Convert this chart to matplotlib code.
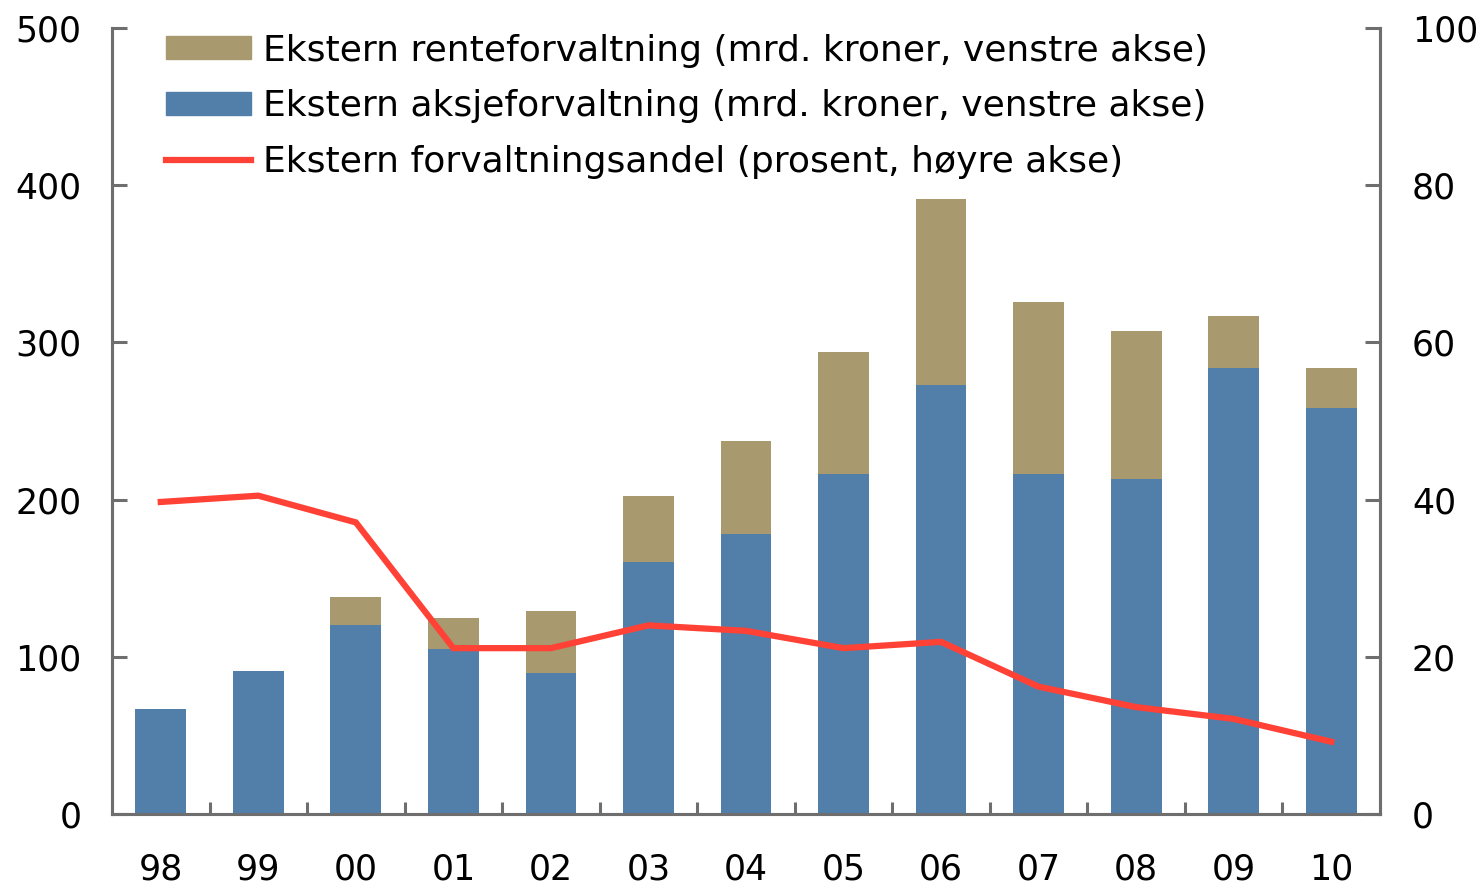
import numpy as np
import matplotlib.pyplot as plt
from matplotlib.lines import Line2D
from matplotlib.patches import Patch

years = ["98", "99", "00", "01", "02", "03", "04", "05", "06", "07", "08", "09", "10"]
aksje = [67, 91, 120, 105, 90, 160, 178, 216, 273, 216, 213, 284, 258]
total = [67, 91, 138, 125, 129, 202, 237, 294, 391, 326, 307, 317, 284]
rente = [t - a for t, a in zip(total, aksje)]
andel = [39.7, 40.5, 37.1, 21.1, 21.1, 24.0, 23.3, 21.1, 21.9, 16.2, 13.6, 12.1, 9.2]

c_rente = "#A89A6E"
c_aksje = "#527FAA"
c_line = "#FF4136"
c_axis = "#6E6E6E"
fs = 25

plt.rcParams.update({"font.family": ["DejaVu Sans"], "font.size": fs})

fig = plt.figure(figsize=(14.83, 8.85), dpi=100)
ax = fig.add_axes([112 / 1483, 71 / 885, 1268 / 1483, 786 / 885])
x = np.arange(len(years))
w = 0.52
ax.bar(x, aksje, width=w, color=c_aksje, zorder=2)
ax.bar(x, rente, width=w, bottom=aksje, color=c_rente, zorder=2)
ax.set_xlim(-0.5, len(years) - 0.5)
ax.set_ylim(0, 500)
ax.set_yticks(range(0, 501, 100))

ax2 = ax.twinx()
ax2.plot(x, andel, color=c_line, lw=4.5, solid_joinstyle="miter", zorder=3)
ax2.set_ylim(0, 100)
ax2.set_yticks(range(0, 101, 20))

for a in (ax, ax2):
    a.spines["top"].set_visible(False)
    for s in ("left", "right", "bottom"):
        a.spines[s].set_color(c_axis)
        a.spines[s].set_linewidth(2.2)

ax.set_xticks(x)
ax.set_xticklabels(years)
ax.tick_params(axis="x", which="major", length=0, pad=28)
ax.set_xticks(x[:-1] + 0.5, minor=True)
ax.tick_params(axis="x", which="minor", direction="in", length=9, width=2.2, color=c_axis)
ax.tick_params(axis="y", direction="in", length=11, width=2.2, color=c_axis, pad=22)
ax2.tick_params(axis="y", direction="in", length=11, width=2.2, color=c_axis, pad=23)

handles = [
    Patch(color=c_rente),
    Patch(color=c_aksje),
    Line2D([0], [0], color=c_line, lw=4.5),
]
labels = [
    "Ekstern renteforvaltning (mrd. kroner, venstre akse)",
    "Ekstern aksjeforvaltning (mrd. kroner, venstre akse)",
    "Ekstern forvaltningsandel (prosent, høyre akse)",
]
ax2.legend(handles, labels, loc="upper left", bbox_to_anchor=(54 / 1268, 0.993),
           frameon=False, borderaxespad=0, borderpad=0,
           handlelength=2.36, handleheight=0.6, handletextpad=0.33,
           labelspacing=0.6, fontsize=26)

fig.savefig("out.png", dpi=100)
